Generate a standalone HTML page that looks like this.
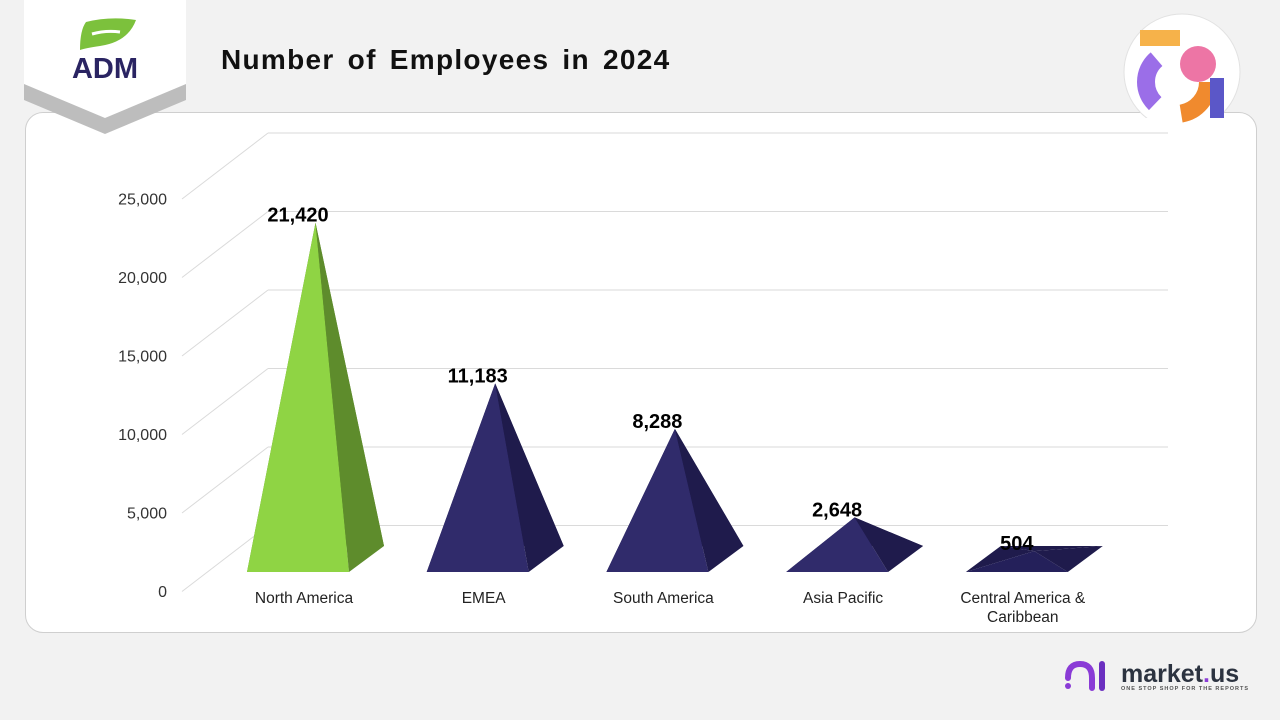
<!DOCTYPE html>
<html><head><meta charset="utf-8"><style>
body{margin:0;width:1280px;height:720px;background:#f2f2f2;overflow:hidden;font-family:"Liberation Sans",sans-serif;position:relative}
#card{position:absolute;left:25px;top:112px;width:1230px;height:519px;background:#fff;border:1px solid #cfcfcf;border-radius:18px}
#title{position:absolute;left:221px;top:44px;font-size:28px;font-weight:bold;color:#111;letter-spacing:1.3px;word-spacing:4px}
svg{position:absolute;left:0;top:0}
</style></head><body>
<div id="card"></div>
<svg width="1280" height="720">
 <g>
  <polygon points="24,0 186,0 186,100 105,134 24,100" fill="#bdbdbd"/>
  <polygon points="24,0 186,0 186,84 105,118 24,84" fill="#fff"/>
  <path d="M86,22 Q110,16 136,20 Q128,42 100,46 Q86,48 80,50 Q80,30 86,22Z" fill="#7cc13c"/>
  <path d="M92,34 Q106,30 120,32" stroke="#fff" stroke-width="3" fill="none"/>
  <text x="105" y="78" text-anchor="middle" font-size="29" font-weight="bold" fill="#2a2462">ADM</text>
 </g>
 <g>
  <circle cx="1182" cy="72" r="58" fill="#fff" stroke="#e2e2e2"/>
  <polygon points="1145,118 1219,118 1182,155" fill="#fff"/>
  <circle cx="1176" cy="82" r="32" fill="none" stroke="#f08a2e" stroke-width="18" stroke-dasharray="45 160"/>
  <circle cx="1176" cy="82" r="30" fill="none" stroke="#9b6ee8" stroke-width="18" stroke-dasharray="0 70 50 200"/>
  <circle cx="1198" cy="64" r="18" fill="#ea5d95" opacity="0.85"/>
  <rect x="1140" y="30" width="40" height="16" fill="#f6b24a"/>
  <rect x="1210" y="78" width="14" height="40" fill="#5b57c8"/>
 </g>
 <g>
  <path d="M1068,678 Q1068,664 1080,664 Q1092,664 1092,678 L1092,688" stroke="#8a3bd6" stroke-width="6" fill="none" stroke-linecap="round"/>
  <line x1="1102" y1="664" x2="1102" y2="688" stroke="#6b2fc0" stroke-width="6" stroke-linecap="round"/>
  <circle cx="1068" cy="686" r="3" fill="#8a3bd6"/>
  <text x="1121" y="682" font-size="25" font-weight="bold" fill="#2c3340">market<tspan fill="#8a3bd6">.</tspan>us</text>
  <text x="1121" y="690" font-size="5.5" font-weight="bold" fill="#555" letter-spacing="1">ONE STOP SHOP FOR THE REPORTS</text>
 </g>
</svg>
<div id="title">Number of  Employees in 2024</div>
<svg id="chart" width="1280" height="720"></svg>
<script>
const categories=["North America","EMEA","South America","Asia Pacific","Central America &\nCaribbean"];
const values=[21420,11183,8288,2648,504];
const valueLabels=["21,420","11,183","8,288","2,648","504"];
const yTicks=[0,5000,10000,15000,20000,25000];
const yTickLabels=["0","5,000","10,000","15,000","20,000","25,000"];
const colorsFront=["#8fd444","#302b6b","#302b6b","#302b6b","#24205a"];
const colorsSide=["#5e8c2c","#1f1b4c","#1f1b4c","#1f1b4c","#1f1b4c"];

const NS="http://www.w3.org/2000/svg";
const svg=document.getElementById('chart');
const yFront0=590, pxPer=78.5/5000, wallDx=86, wallDy=-66;
const y=v=>yFront0-v*pxPer;
function mk(t,a,p){const e=document.createElementNS(NS,t);for(const k in a)e.setAttribute(k,a[k]);(p||svg).appendChild(e);return e;}
yTicks.forEach((t,i)=>{
  const g=mk('g',{});
  
  
  mk('line',{x1:182,y1:y(t)+1.5,x2:182+wallDx,y2:y(t)+1.5+wallDy,stroke:'#dadada','stroke-width':1},g);
  mk('line',{x1:182+wallDx,y1:y(t)+1.5+wallDy,x2:1168,y2:y(t)+1.5+wallDy,stroke:'#dadada','stroke-width':1},g);
  const tx=mk('text',{x:167,y:y(t)+7,'text-anchor':'end','font-size':16,fill:'#333'});
  tx.textContent=yTickLabels[i];
  
  
});
const x0=247, step=179.7, w=102, dx=35, dy=-26, baseY=572;
categories.forEach((c,i)=>{
  const L=x0+i*step, R=L+w;
  const apexX=L+w/2+dx/2, apexY=baseY+dy/2-values[i]*pxPer;
  const g=mk('g',{});
  
  
  const p=a=>a.map(q=>q.join(',')).join(' ');
  mk('polygon',{points:p([[L+dx,baseY+dy],[R+dx,baseY+dy],[apexX,apexY]]),fill:colorsSide[i]},g);
  mk('polygon',{points:p([[L,baseY],[L+dx,baseY+dy],[apexX,apexY]]),fill:colorsSide[i]},g);
  mk('polygon',{points:p([[L,baseY],[R,baseY],[apexX,apexY]]),fill:colorsFront[i]},g);
  mk('polygon',{points:p([[R,baseY],[R+dx,baseY+dy],[apexX,apexY]]),fill:colorsSide[i]},g);
  const vl=mk('text',{x:L+w/2,y:apexY-1,'text-anchor':'middle','font-size':20,'font-weight':'bold',fill:'#000'});
  vl.textContent=valueLabels[i];
  
  
  c.split('\n').forEach((ln,j)=>{
    const t=mk('text',{x:L+w/2+6,y:603+j*19,'text-anchor':'middle','font-size':15.5,fill:'#222'});
    t.textContent=ln;
    
    
  });
});
</script>
</body></html>
